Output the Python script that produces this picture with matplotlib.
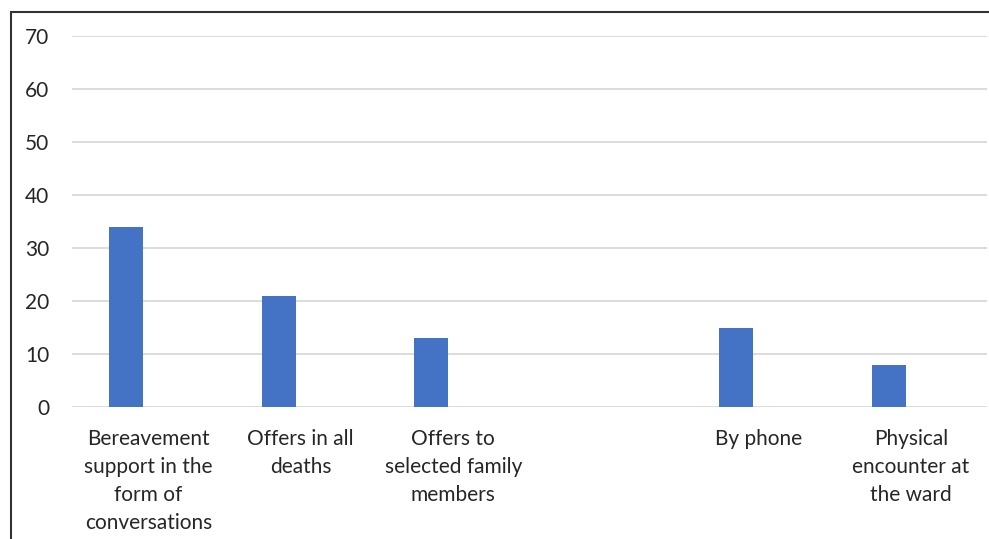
import matplotlib
matplotlib.use("Agg")
import matplotlib.pyplot as plt
from matplotlib.patches import Rectangle
import numpy as np

# data
categories = ["Bereavement\nsupport in the\nform of\nconversations",
              "Offers in all\ndeaths",
              "Offers to\nselected family\nmembers",
              "",
              "By phone",
              "Physical\nencounter at\nthe ward"]
values = [34, 21, 13, np.nan, 15, 8]
yticks = [0, 10, 20, 30, 40, 50, 60, 70]

W, H = 989, 539
fig = plt.figure(figsize=(W / 100, H / 100), dpi=100)
plt.rcParams['font.family'] = ['Lato', 'DejaVu Sans']

ax = fig.add_axes([72 / W, 1 - 407 / H, (987 - 72) / W, (407 - 36) / H])

x = np.arange(len(categories))
ax.bar(x - 0.144, values, width=0.223, color="#4472C4", zorder=3)

ax.set_xlim(-0.5, len(categories) - 0.5)
ax.set_ylim(0, 70)
ax.set_yticks(yticks)
ax.set_xticks(x)
ax.set_xticklabels(categories, fontsize=15, color="#262626", linespacing=1.5)
ax.tick_params(axis="x", length=0, pad=15.5)
ax.tick_params(axis="y", length=0, pad=16.5, labelsize=15, labelcolor="#262626")
ax.grid(axis="y", color="#D9D9D9", linewidth=1.3, zorder=0)
ax.set_axisbelow(True)
for s in ax.spines.values():
    s.set_visible(False)

# outer frame of the chart (cut off at right and bottom)
fig.patches.append(Rectangle((11 / W, -0.1), 1.2, 1 - 12 / H + 0.1,
                             transform=fig.transFigure, fill=False,
                             edgecolor="#333333", linewidth=1.5))

fig.savefig("out.png", dpi=100, facecolor="white")
